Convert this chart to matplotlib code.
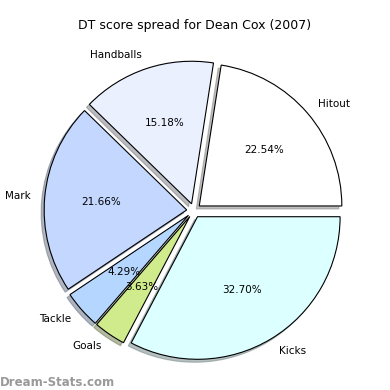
import matplotlib
matplotlib.use("Agg")
import matplotlib.pyplot as plt

labels = ["Hitout", "Handballs", "Mark", "Tackle", "Goals", "Kicks"]
values = [22.54, 15.18, 21.66, 4.29, 3.63, 32.70]
colors = ["#ffffff", "#ebf0ff", "#c4d8ff", "#b5d6ff", "#d0eb8c", "#dcffff"]
explode = [0.05] * 6

fig = plt.figure(figsize=(3.9, 3.9), dpi=100)
ax = fig.add_axes([0.040, 0.003, 0.914, 0.914])
wedges, texts, autotexts = ax.pie(values, labels=labels, colors=colors, explode=explode,
                                  autopct="%1.2f%%",
                                  shadow={"ox": -0.015, "oy": -0.015, "shade": 0.5},
                                  startangle=0,
                                  wedgeprops=dict(edgecolor="black", linewidth=0.8),
                                  textprops=dict(fontsize=7.5))
ax.set_aspect("equal")
fig.text(0.5, 0.925, "DT score spread for Dean Cox (2007)", ha="center", fontsize=9)
fig.text(0.0, 0.01, "Dream-Stats.com", ha="left", fontsize=8.5, color="#999999", fontweight="bold")
fig.savefig("out.png", dpi=100)
